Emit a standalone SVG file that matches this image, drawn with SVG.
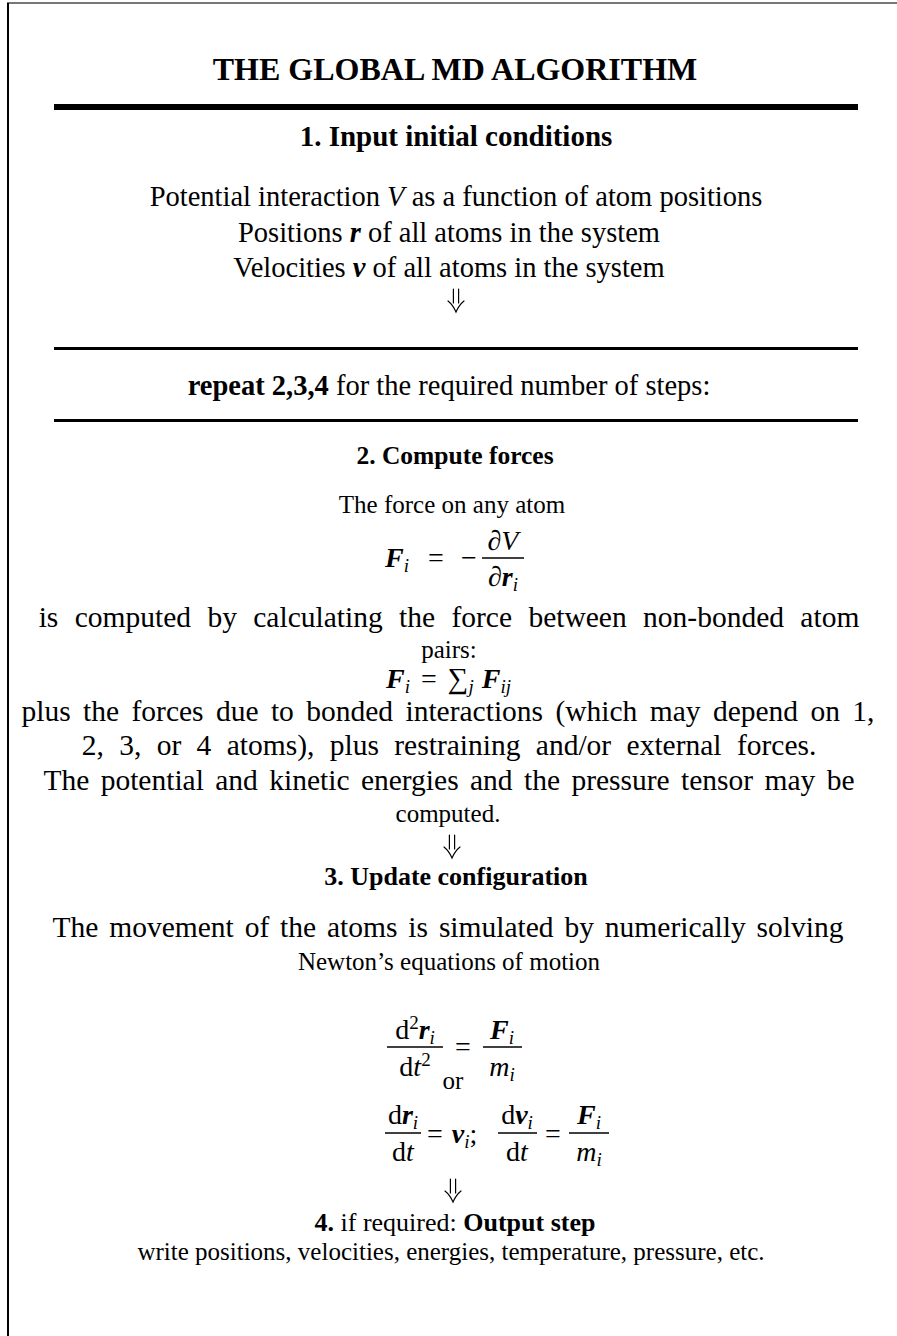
<svg xmlns="http://www.w3.org/2000/svg" xmlns:xlink="http://www.w3.org/1999/xlink" width="897" height="1336" viewBox="0 0 897 1336">
<style>
text{font-family:"Liberation Serif","DejaVu Serif",serif;fill:#000}
.t{font-size:25px;text-anchor:middle}
.tw{font-size:29.5px;text-anchor:middle}
.t1{font-size:28.5px;text-anchor:middle}
.h{font-size:29px;font-weight:bold;text-anchor:middle}
.m{font-size:28px}
.bi{font-weight:bold;font-style:italic}
.it{font-style:italic}
.b{font-weight:bold}
.s{font-size:19px}
.fb{stroke:#000;stroke-width:1.3}
.arr{fill:none;stroke:#000;stroke-width:1.2;stroke-linecap:round}
</style>
<defs>
<path id="dn" d="M-2.6,0 V14 M2.6,0 V14 M-8,12 Q-3,16 0,23 Q3,16 8,12"/>
</defs>
<rect width="897" height="1336" fill="#fff"/>
<g id="frame">
<line x1="7" y1="3" x2="897" y2="3" stroke="#777" stroke-width="2"/>
<line x1="8" y1="3" x2="8" y2="1336" stroke="#000" stroke-width="2"/>
</g>
<g id="title"><text x="455" y="80" style="font-size:32px;font-weight:bold;text-anchor:middle">THE GLOBAL MD ALGORITHM</text></g>
<g id="rules">
<rect x="54" y="104" width="804" height="6" fill="#000"/>
<rect x="54" y="347" width="804" height="3" fill="#000"/>
<rect x="54" y="419" width="804" height="3" fill="#000"/>
</g>
<g id="step1">
<text class="h" x="456" y="146">1. Input initial conditions</text>
<text class="t1" x="456" y="206">Potential interaction <tspan class="it">V</tspan> as a function of atom positions</text>
<text class="t1" x="449" y="242">Positions <tspan class="bi">r</tspan> of all atoms in the system</text>
<text class="t1" x="449" y="277">Velocities <tspan class="bi">v</tspan> of all atoms in the system</text>
</g>
<g id="repeat">
<text class="t1" x="449" y="395"><tspan class="b">repeat 2,3,4</tspan> for the required number of steps:</text>
</g>
<g id="step2">
<text class="h" x="455" y="464" style="font-size:25.5px">2. Compute forces</text>
<text class="t" x="452" y="513">The force on any atom</text>
<text class="m" x="385" y="567"><tspan class="bi">F</tspan><tspan class="s it" dy="5">i</tspan></text>
<text class="m" x="436" y="567" text-anchor="middle">=</text>
<text class="m" x="469" y="567" text-anchor="middle">−</text>
<text class="m" x="503" y="550" text-anchor="middle">∂<tspan class="it">V</tspan></text>
<line class="fb" x1="482" y1="558" x2="524" y2="558"/>
<text class="m" x="503" y="586" text-anchor="middle">∂<tspan class="bi">r</tspan><tspan class="s it" dy="5">i</tspan></text>
<text class="tw" x="449" y="627" style="word-spacing:9px">is computed by calculating the force between non-bonded atom</text>
<text class="t" x="449" y="658">pairs:</text>
<text class="m" x="386" y="688"><tspan class="bi">F</tspan><tspan class="s it" dy="5">i</tspan><tspan dy="-5" dx="11">=</tspan><tspan dx="11" style="font-size:29px">∑</tspan><tspan class="s it" dy="5">j</tspan><tspan class="bi" dy="-5" dx="8">F</tspan><tspan class="s it" dy="5">ij</tspan></text>
<text class="tw" x="448" y="721" style="word-spacing:5px">plus the forces due to bonded interactions (which may depend on 1,</text>
<text class="tw" x="449" y="755" style="word-spacing:8px">2, 3, or 4 atoms), plus restraining and/or external forces.</text>
<text class="tw" x="449" y="790" style="word-spacing:4px">The potential and kinetic energies and the pressure tensor may be</text>
<text class="t" x="448" y="822">computed.</text>
</g>
<g id="step3">
<text class="h" x="456" y="885" style="font-size:26px">3. Update configuration</text>
<text class="tw" x="448" y="937" style="word-spacing:3.5px">The movement of the atoms is simulated by numerically solving</text>
<text class="t" x="449" y="970">Newton’s equations of motion</text>
<text class="m" x="415" y="1039" text-anchor="middle">d<tspan class="s" dy="-10">2</tspan><tspan class="bi" dy="10">r</tspan><tspan class="s it" dy="5">i</tspan></text>
<line class="fb" x1="387" y1="1047" x2="443" y2="1047"/>
<text class="m" x="415" y="1076" text-anchor="middle">d<tspan class="it">t</tspan><tspan class="s" dy="-10">2</tspan></text>
<text class="m" x="463" y="1056" text-anchor="middle">=</text>
<text class="m" x="502" y="1039" text-anchor="middle"><tspan class="bi">F</tspan><tspan class="s it" dy="5">i</tspan></text>
<line class="fb" x1="483" y1="1047" x2="522" y2="1047"/>
<text class="m" x="502" y="1076" text-anchor="middle"><tspan class="it">m</tspan><tspan class="s it" dy="5">i</tspan></text>
<text class="t" x="453" y="1089">or</text>
<text class="m" x="403" y="1124" text-anchor="middle">d<tspan class="bi">r</tspan><tspan class="s it" dy="5">i</tspan></text>
<line class="fb" x1="385" y1="1133" x2="421" y2="1133"/>
<text class="m" x="403" y="1161" text-anchor="middle">d<tspan class="it">t</tspan></text>
<text class="m" x="427" y="1143">=<tspan dx="9" class="bi">v</tspan><tspan class="s it" dy="5">i</tspan><tspan dy="-5">;</tspan></text>
<text class="m" x="517" y="1124" text-anchor="middle">d<tspan class="bi">v</tspan><tspan class="s it" dy="5">i</tspan></text>
<line class="fb" x1="498" y1="1133" x2="537" y2="1133"/>
<text class="m" x="517" y="1161" text-anchor="middle">d<tspan class="it">t</tspan></text>
<text class="m" x="553" y="1143" text-anchor="middle">=</text>
<text class="m" x="589" y="1124" text-anchor="middle"><tspan class="bi">F</tspan><tspan class="s it" dy="5">i</tspan></text>
<line class="fb" x1="569" y1="1133" x2="609" y2="1133"/>
<text class="m" x="589" y="1161" text-anchor="middle"><tspan class="it">m</tspan><tspan class="s it" dy="5">i</tspan></text>
</g>
<g id="step4">
<text x="455" y="1231" style="font-size:26px;text-anchor:middle"><tspan class="b">4.</tspan> if required: <tspan class="b">Output step</tspan></text>
<text class="t" x="451" y="1260">write positions, velocities, energies, temperature, pressure, etc.</text>
</g>
<g id="connectors" class="arr">
<use xlink:href="#dn" x="456" y="289"/>
<use xlink:href="#dn" x="452" y="835"/>
<use xlink:href="#dn" x="453" y="1179"/>
</g>
</svg>
